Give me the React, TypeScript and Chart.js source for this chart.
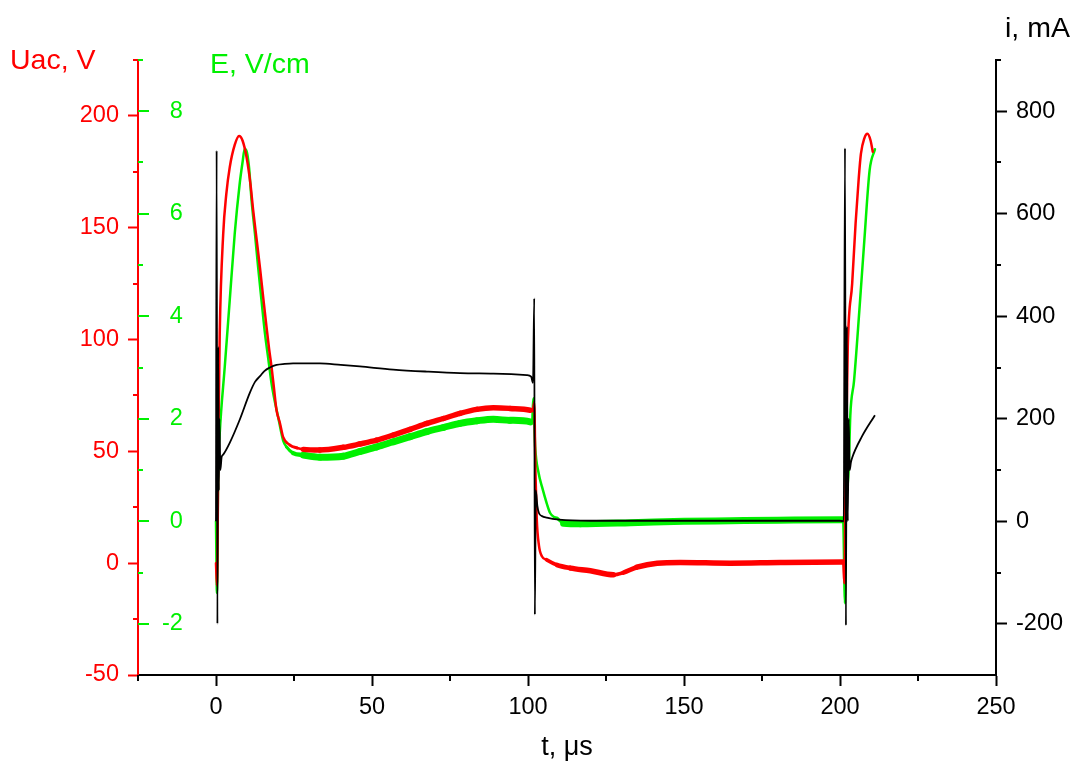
import { useEffect, useRef } from 'react';
import { Chart, registerables } from 'chart.js';

Chart.register(...registerables);

const FONT = "'Liberation Sans', Arial, Helvetica, sans-serif";
const RED = '#ff0000';
const GREEN = '#00f000';
const BLACK = '#000000';

// Uac, V (red, left axis)
const uacT = [0, 0.3, 0.8, 1.2, 2.3, 3.3, 4.4, 6.0, 7.4, 8.5, 9.8, 11.0, 11.9, 13.0, 14.1, 15.2, 16.2, 17.0, 17.8, 18.6, 19.4, 20.5, 21.5, 23.7, 26.0, 28.0, 33.3, 40.8, 46.1, 51.5, 56.8, 62.2, 67.6, 72.9, 78.2, 83.6, 88.9, 94.2, 100.7, 101.5, 102.0, 102.4, 102.8, 103.5, 104.5, 106.0, 109.3, 113.6, 120.0, 127.4, 130.6, 134.9, 141.4, 148.8, 164.9, 180.9, 201.0, 201.4, 201.8, 202.5, 203.9, 205.0, 206.0, 206.7, 207.8, 208.8, 209.8, 210.5];
const uacV = [0, -10, 60, 103, 147, 165, 177, 187, 191, 189, 181.5, 170, 158, 145, 132, 118, 105.6, 96, 87.8, 78, 68.4, 62.6, 56.5, 52.8, 51.5, 50.9, 50.6, 51.8, 53.3, 55, 57.3, 59.8, 62.5, 64.7, 67, 68.8, 69.5, 69.2, 68.4, 68, 72, 40, 20, 8, 3, 1.5, -0.8, -2.2, -3.4, -5.2, -4.2, -1.8, 0, 0.3, 0, 0.3, 0.5, -9, 40, 97, 125, 152, 172, 183, 190, 192, 189, 184];

// E, V/cm (green, inner left axis)
const eT = [0, 0.3, 0.7, 1.2, 2.8, 4.4, 6.0, 7.6, 8.5, 9.2, 9.9, 10.6, 11.4, 12.5, 13.5, 14.6, 15.7, 16.8, 17.8, 18.8, 19.9, 21.5, 22.6, 24.7, 28.0, 33.3, 40.8, 46.1, 51.5, 56.8, 62.2, 67.6, 72.9, 78.2, 83.6, 88.9, 94.2, 100.7, 101.3, 101.7, 102.3, 103.4, 104.5, 106.0, 107.1, 108.2, 109.3, 111.4, 116.8, 132.8, 150, 165, 180, 201.0, 201.6, 201.9, 202.3, 202.8, 203.3, 204.5, 206.2, 207.8, 209.5, 211.2];
const eV = [0, -1.4, 1.0, 1.72, 3.01, 4.31, 5.61, 6.59, 7.0, 7.27, 7.2, 6.9, 6.26, 5.6, 4.96, 4.3, 3.66, 3.15, 2.69, 2.35, 2.04, 1.58, 1.45, 1.33, 1.29, 1.25, 1.27, 1.36, 1.45, 1.55, 1.65, 1.75, 1.83, 1.91, 1.96, 1.99, 1.97, 1.94, 1.9, 2.4, 1.45, 0.94, 0.67, 0.35, 0.16, 0.09, 0.06, -0.04, -0.05, -0.03, 0, 0.01, 0.02, 0.03, -1.6, 0.2, 0.6, 1.04, 2.06, 2.74, 4.11, 5.48, 6.85, 7.26];

// i, mA (black, right axis)
const iT = [0, 0.2, 0.45, 0.7, 0.9, 1.1, 1.4, 1.8, 2.3, 4.4, 7.6, 10.8, 12.5, 14.1, 15.5, 17.3, 19.4, 22.0, 24.7, 33.3, 40.0, 46.1, 56.8, 67.6, 78.2, 88.9, 99.6, 101.0, 101.6, 102.0, 102.2, 102.5, 103.0, 103.5, 104.5, 106.0, 110.0, 120.0, 200.0, 201.2, 201.6, 201.9, 202.2, 202.5, 202.8, 203.1, 203.5, 203.9, 207.0, 211.2];
const iV = [0, 723, -200, 340, 60, 200, 100, 125, 130, 153, 198, 250, 272, 283, 293, 300, 305, 307, 308, 308, 305, 302, 296, 292, 289, 288, 285, 282, 270, 435, -182, 60, 30, 16, 10, 7, 3, 1, 1, 0, 728, -203, 380, 0, 200, 100, 115, 124, 165, 207];

// Axis ticks
const tMajorTicks = [0, 50, 100, 150, 200, 250];
const tMinorTicks = [-25, 25, 75, 125, 175, 225];
const uacMajorTicks = [-50, 0, 50, 100, 150, 200];
const uacMinorTicks = [-25, 25, 75, 125, 175, 225];
const eMajorTicks = [-2, 0, 2, 4, 6, 8];
const eMinorTicks = [-1, 1, 3, 5, 7, 9];
const iMajorTicks = [-200, 0, 200, 400, 600, 800];
const iMinorTicks = [-100, 100, 300, 500, 700, 900];

const W = 1073;
const H = 764;

const toPoints = (xs: number[], ys: number[]) => xs.map((x, k) => ({ x, y: ys[k] }));

// thicker stroke on the long, nearly flat stretches where the recorded trace is noisy
const band = (c: any, wide: number, thin: number) => {
  const dx = Math.abs(c.p1.x - c.p0.x);
  const dy = Math.abs(c.p1.y - c.p0.y);
  if (dy > dx) return thin;
  const f = Math.max(0, Math.min(1, (dx - 5) / 12));
  return thin + (wide - thin) * f;
};

const extrasPlugin = {
  id: 'extras',
  afterDraw(chart: any) {
    const { ctx, chartArea, scales } = chart;
    const { left, right, bottom } = chartArea;
    ctx.save();
    ctx.lineWidth = 2;
    const hl = (x1: number, x2: number, y: number) => {
      ctx.beginPath();
      ctx.moveTo(x1, y);
      ctx.lineTo(x2, y);
      ctx.stroke();
    };
    ctx.strokeStyle = RED;
    for (const v of uacMinorTicks) hl(left - 5, left, Math.round(scales.yU.getPixelForValue(v)));
    ctx.strokeStyle = GREEN;
    for (const v of eMajorTicks) hl(left, left + 11, Math.round(scales.yE.getPixelForValue(v)));
    for (const v of eMinorTicks) hl(left, left + 5, Math.round(scales.yE.getPixelForValue(v)));
    ctx.strokeStyle = BLACK;
    for (const v of iMinorTicks) hl(right, right + 5, Math.round(scales.yI.getPixelForValue(v)));
    for (const v of tMinorTicks) {
      const x = Math.round(scales.x.getPixelForValue(v));
      ctx.beginPath();
      ctx.moveTo(x, bottom);
      ctx.lineTo(x, bottom + 6);
      ctx.stroke();
    }
    ctx.font = `28.5px ${FONT}`;
    ctx.textBaseline = 'middle';
    ctx.textAlign = 'left';
    ctx.fillStyle = RED;
    ctx.fillText('Uac, V', 10, 61);
    ctx.fillStyle = GREEN;
    ctx.fillText('E, V/cm', 210, 65);
    ctx.fillStyle = BLACK;
    ctx.fillText('i, mA', 1005, 29);
    ctx.restore();
  },
};

export default function App() {
  const ref = useRef<HTMLCanvasElement>(null);

  useEffect(() => {
    if (!ref.current) return;
    Chart.defaults.font.family = FONT;
    const setTicks = (list: number[]) => (s: any) => {
      s.ticks = list.map((value) => ({ value }));
    };
    const tickFont = { family: FONT, size: 23.5 };
    const chart = new Chart(ref.current, {
      type: 'line',
      data: {
        datasets: [
          {
            label: 'i, mA',
            data: toPoints(iT, iV),
            yAxisID: 'yI',
            borderColor: BLACK,
            borderWidth: 1.8,
            pointRadius: 0,
            cubicInterpolationMode: 'monotone',
            order: 0,
          },
          {
            label: 'Uac, V',
            data: toPoints(uacT, uacV),
            yAxisID: 'yU',
            borderColor: RED,
            borderWidth: 2.5,
            borderJoinStyle: 'round',
            borderCapStyle: 'round',
            segment: { borderWidth: (c: any) => band(c, 5.5, 2.5) },
            pointRadius: 0,
            cubicInterpolationMode: 'monotone',
            order: 1,
          },
          {
            label: 'E, V/cm',
            data: toPoints(eT, eV),
            yAxisID: 'yE',
            borderColor: GREEN,
            borderWidth: 2.5,
            borderJoinStyle: 'round',
            borderCapStyle: 'round',
            segment: { borderWidth: (c: any) => band(c, 7, 2.5) },
            pointRadius: 0,
            cubicInterpolationMode: 'monotone',
            order: 2,
          },
        ],
      },
      options: {
        responsive: false,
        animation: false,
        devicePixelRatio: 1,
        layout: { padding: { top: 60, left: 0, right: 0, bottom: 0 } },
        plugins: { legend: { display: false }, tooltip: { enabled: false } },
        scales: {
          x: {
            type: 'linear',
            position: 'bottom',
            min: -25,
            max: 250,
            afterBuildTicks: setTicks(tMajorTicks),
            afterFit: (s: any) => { s.height = H - 675; },
            grid: { display: true, drawOnChartArea: false, drawTicks: true, tickLength: 11, tickWidth: 2, tickColor: BLACK },
            border: { display: true, color: BLACK, width: 2 },
            ticks: { color: BLACK, font: tickFont, padding: 7, autoSkip: false, maxRotation: 0 },
            title: { display: true, text: 't, μs', color: BLACK, font: { family: FONT, size: 27 }, padding: { top: 0, bottom: 0 } },
          },
          yU: {
            type: 'linear',
            position: 'left',
            weight: 1,
            min: -50,
            max: 225,
            afterBuildTicks: setTicks(uacMajorTicks),
            afterFit: (s: any) => { s.width = 138; },
            grid: { display: true, drawOnChartArea: false, drawTicks: true, tickLength: 10, tickWidth: 2, tickColor: RED },
            border: { display: true, color: RED, width: 2 },
            ticks: { color: RED, font: tickFont, padding: 9, autoSkip: false },
          },
          yE: {
            type: 'linear',
            position: 'left',
            weight: 0,
            min: -3,
            max: 9,
            afterBuildTicks: setTicks(eMajorTicks),
            afterFit: (s: any) => { s.width = 0; },
            grid: { display: false, drawTicks: false },
            border: { display: false },
            ticks: { color: GREEN, font: tickFont, mirror: true, crossAlign: 'far', padding: 24, autoSkip: false },
          },
          yI: {
            type: 'linear',
            position: 'right',
            min: -300,
            max: 900,
            afterBuildTicks: setTicks(iMajorTicks),
            afterFit: (s: any) => { s.width = W - 996; },
            grid: { display: true, drawOnChartArea: false, drawTicks: true, tickLength: 11, tickWidth: 2, tickColor: BLACK },
            border: { display: true, color: BLACK, width: 2 },
            ticks: { color: BLACK, font: tickFont, padding: 9, autoSkip: false },
          },
        },
      },
      plugins: [extrasPlugin],
    } as any);
    return () => chart.destroy();
  }, []);

  return (
    <div style={{ position: 'absolute', left: 0, top: 0, width: W, height: H, background: '#fff' }}>
      <canvas ref={ref} width={W} height={H} style={{ width: W, height: H, display: 'block' }} />
    </div>
  );
}
